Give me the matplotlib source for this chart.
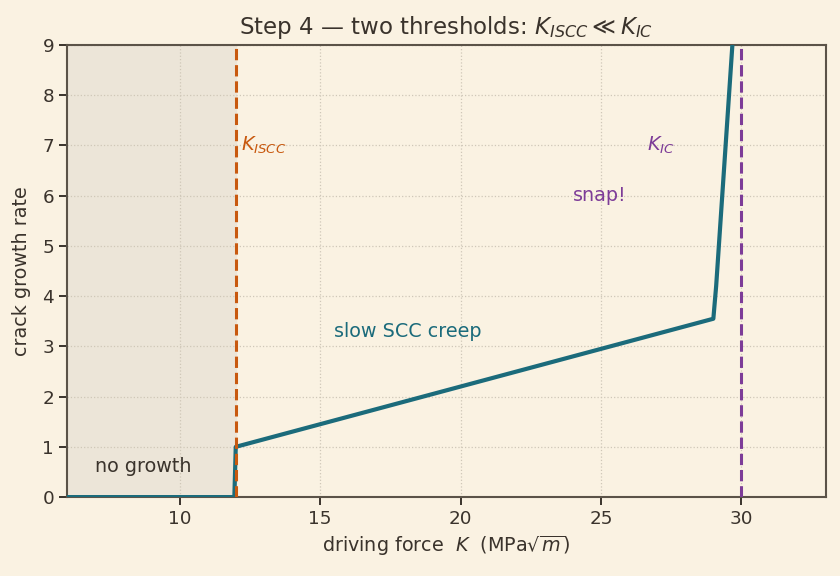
import numpy as np
import matplotlib.pyplot as plt

# crack growth curve (K, rate)
K_pts = [6.0, 11.95, 12.0, 29.0, 29.1, 29.75]
rate_pts = [0.0, 0.0, 1.0, 3.55, 4.2, 9.6]
K_ISCC = 12.0
K_IC = 30.0

bg = "#faf2e2"
ink = "#3a332c"
teal = "#1b6b7b"
orange = "#c8590f"
purple = "#7d3c98"

plt.rcParams["font.family"] = "DejaVu Sans"
fig, ax = plt.subplots(figsize=(8.4, 5.76), dpi=100)
fig.patch.set_facecolor(bg)
ax.set_facecolor(bg)

ax.axvspan(6, K_ISCC, color="#ece5d8", zorder=0)
ax.grid(True, linestyle=":", color="#cfc7b8", linewidth=0.9, zorder=0)

ax.plot(K_pts, rate_pts, color=teal, lw=3.0, zorder=3)
ax.axvline(K_ISCC, color=orange, ls="--", lw=2.2, zorder=4)
ax.axvline(K_IC, color=purple, ls="--", lw=2.2, zorder=4)

fs = 13.8
ax.text(12.2, 7.0, r"$K_{ISCC}$", color=orange, fontsize=fs, va="center")
ax.text(26.65, 7.0, r"$K_{IC}$", color=purple, fontsize=fs, va="center")
ax.text(24.0, 6.0, "snap!", color=purple, fontsize=fs, va="center")
ax.text(15.5, 3.3, "slow SCC creep", color=teal, fontsize=fs, va="center")
ax.text(7.0, 0.6, "no growth", color=ink, fontsize=fs, va="center")

ax.set_xlim(6, 33)
ax.set_ylim(0, 9)
ax.set_xticks([10, 15, 20, 25, 30])
ax.set_yticks(range(10))
ax.tick_params(colors=ink, labelsize=13.2, length=6, width=1.4)
for s in ax.spines.values():
    s.set_color("#5b5348")
    s.set_linewidth(1.5)

ax.set_xlabel(r"driving force  $K$  (MPa$\sqrt{m}$)", color=ink, fontsize=13.8)
ax.set_ylabel("crack growth rate", color=ink, fontsize=13.8, labelpad=8)
ax.set_title(r"Step 4 — two thresholds: $K_{ISCC} \ll K_{IC}$", color=ink, fontsize=16.5, pad=8)

fig.subplots_adjust(left=0.08, right=0.983, top=0.922, bottom=0.137)
fig.savefig("out.png", dpi=100, facecolor=bg)
